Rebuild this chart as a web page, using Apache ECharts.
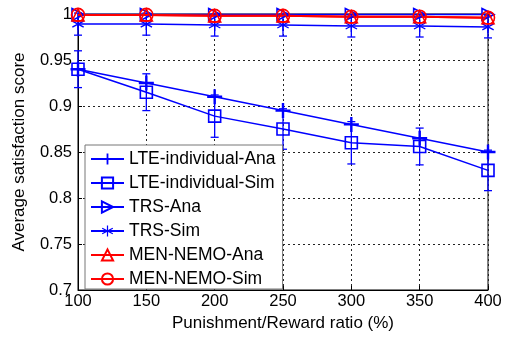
<!DOCTYPE html>
<html>
<head>
<meta charset="utf-8">
<script src="https://cdn.jsdelivr.net/npm/echarts@6/dist/echarts.min.js"></script>
<style>
  html, body { margin: 0; padding: 0; background: #fff; }
  #chart { width: 509px; height: 339px; }
</style>
</head>
<body>
<div id="chart"></div>
<script>
// Punishment/Reward ratio (%) on the x axis
const ratios = [100, 150, 200, 250, 300, 350, 400];

// Average satisfaction score per scheme
const lteAna = [0.94, 0.925, 0.91, 0.895, 0.88, 0.865, 0.85];
const lteSim = [0.94, 0.915, 0.889, 0.875, 0.86, 0.856, 0.83];
const lteSimErr = [0.02, 0.02, 0.023, 0.022, 0.023, 0.02, 0.022];
const trsAna = [0.9995, 0.9995, 0.9995, 0.9995, 0.9995, 0.9995, 0.9995];
const trsSim = [0.989, 0.989, 0.988, 0.988, 0.987, 0.987, 0.986];
const trsSimErr = [0.012, 0.012, 0.012, 0.012, 0.012, 0.012, 0.012];
const menAna = [0.999, 0.999, 0.998, 0.998, 0.997, 0.997, 0.996];
const menSim = [0.999, 0.999, 0.998, 0.998, 0.997, 0.997, 0.996];

const seriesNames = ['LTE-individual-Ana', 'LTE-individual-Sim', 'TRS-Ana', 'TRS-Sim', 'MEN-NEMO-Ana', 'MEN-NEMO-Sim'];
const yTicks = { min: 0.7, max: 1, interval: 0.05 };
const xTicks = { min: 100, max: 400, interval: 50 };

const BLUE = '#0000ff';
const RED = '#ff0000';
const FONT = 'Liberation Sans, Arial, sans-serif';

// marker shapes
const PLUS = 'path://M4.2,0H5.8V4.2H10V5.8H5.8V10H4.2V5.8H0V4.2H4.2Z';
const STAR = 'path://M4.5,0L5.5,0L5.5,10L4.5,10Z M0.92,2.07L0.42,2.93L9.08,7.93L9.58,7.07Z M0.42,7.07L0.92,7.93L9.58,2.93L9.08,2.07Z';
const TRI_RIGHT = 'path://M0,0L10,5L0,10Z';
const TRI_UP = 'path://M5,0L10,10L0,10Z';

const pairs = (ys) => ratios.map((x, i) => [x, ys[i]]);
const errData = (ys, es) => ratios.map((x, i) => [x, ys[i] - es[i], ys[i] + es[i]]);

function errorBars(color) {
  return function (params, api) {
    const x = api.value(0);
    const lo = api.coord([x, api.value(1)]);
    const hi = api.coord([x, api.value(2)]);
    const cap = 4;
    const style = { stroke: color, lineWidth: 1.3 };
    return {
      type: 'group',
      children: [
        { type: 'line', shape: { x1: lo[0], y1: lo[1], x2: hi[0], y2: hi[1] }, style },
        { type: 'line', shape: { x1: lo[0] - cap, y1: lo[1], x2: lo[0] + cap, y2: lo[1] }, style },
        { type: 'line', shape: { x1: hi[0] - cap, y1: hi[1], x2: hi[0] + cap, y2: hi[1] }, style }
      ]
    };
  };
}

function lineSeries(name, ys, color, symbol, size, filled, width) {
  return {
    name,
    type: 'line',
    data: pairs(ys),
    symbol,
    symbolSize: size,
    showAllSymbol: true,
    clip: false,
    lineStyle: { color, width: width || 1.5 },
    itemStyle: filled
      ? { color, borderWidth: 0 }
      : { color: 'rgba(0,0,0,0)', borderColor: color, borderWidth: 1.6 },
    emphasis: { disabled: true },
    z: 3
  };
}

const chart = echarts.init(document.getElementById('chart'), null, { renderer: 'canvas' });

chart.setOption({
  animation: false,
  backgroundColor: '#fff',
  grid: { left: 78, right: 21, top: 14, bottom: 49, show: true, borderColor: '#000', borderWidth: 1, backgroundColor: 'transparent' },
  xAxis: {
    type: 'value',
    min: xTicks.min, max: xTicks.max, interval: xTicks.interval,
    name: 'Punishment/Reward ratio (%)',
    nameLocation: 'middle',
    nameGap: 25,
    nameTextStyle: { fontFamily: FONT, fontSize: 17, color: '#000' },
    axisLine: { show: true, lineStyle: { color: '#000', width: 1 } },
    axisTick: { show: true, inside: true, length: 4, lineStyle: { color: '#000' } },
    axisLabel: { fontFamily: FONT, fontSize: 16.5, color: '#000', margin: 3 },
    splitLine: { show: true, lineStyle: { color: '#222', width: 1, type: [2, 3] } }
  },
  yAxis: {
    type: 'value',
    min: yTicks.min, max: yTicks.max, interval: yTicks.interval,
    name: 'Average satisfaction score',
    nameLocation: 'middle',
    nameGap: 50,
    nameTextStyle: { fontFamily: FONT, fontSize: 17, color: '#000' },
    axisLine: { show: true, lineStyle: { color: '#000', width: 1 } },
    axisTick: { show: true, inside: true, length: 4, lineStyle: { color: '#000' } },
    axisLabel: { fontFamily: FONT, fontSize: 16.5, color: '#000', margin: 6 },
    splitLine: { show: true, lineStyle: { color: '#222', width: 1, type: [2, 3] } }
  },
  legend: {
    data: seriesNames,
    orient: 'vertical',
    left: 85,
    top: 145,
    padding: [5, 7, 1, 5],
    itemWidth: 33,
    itemHeight: 14,
    itemGap: 6,
    backgroundColor: '#fff',
    borderColor: '#777',
    borderWidth: 1,
    textStyle: { fontFamily: FONT, fontSize: 17.5, lineHeight: 17, color: '#000' }
  },
  series: [
    {
      name: 'lteSimErr',
      type: 'custom',
      data: errData(lteSim, lteSimErr),
      renderItem: errorBars(BLUE),
      encode: { x: 0, y: [1, 2] },
      clip: false,
      silent: true,
      z: 2
    },
    {
      name: 'trsSimErr',
      type: 'custom',
      data: errData(trsSim, trsSimErr),
      renderItem: errorBars(BLUE),
      encode: { x: 0, y: [1, 2] },
      clip: false,
      silent: true,
      z: 2
    },
    lineSeries('LTE-individual-Ana', lteAna, BLUE, PLUS, 15, true),
    lineSeries('LTE-individual-Sim', lteSim, BLUE, 'rect', 12, false),
    lineSeries('TRS-Ana', trsAna, BLUE, TRI_RIGHT, 12, false),
    lineSeries('TRS-Sim', trsSim, BLUE, STAR, 12, true),
    lineSeries('MEN-NEMO-Ana', menAna, RED, TRI_UP, 12, false, 2),
    lineSeries('MEN-NEMO-Sim', menSim, RED, 'circle', 13, false, 2)
  ]
});
</script>
</body>
</html>
